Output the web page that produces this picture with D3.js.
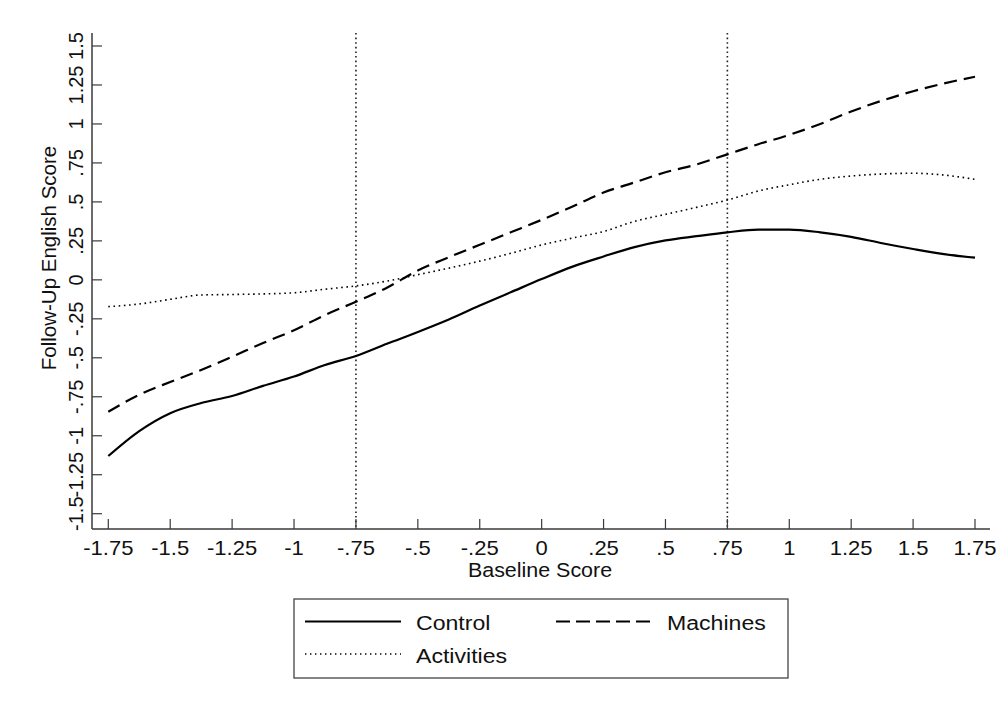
<!DOCTYPE html>
<html>
<head>
<meta charset="utf-8">
<script src="https://cdn.jsdelivr.net/npm/d3@7"></script>
<style>
  html, body { margin: 0; padding: 0; background: #fff; }
  svg { display: block; }
  text { font-family: "Liberation Sans", Arial, sans-serif; fill: #111; }
</style>
</head>
<body>
<svg id="chart" width="1008" height="706"></svg>
<script>
// ---- data ----
const baseline = [-1.75, -1.625, -1.5, -1.375, -1.25, -1.125, -1.0, -0.875, -0.75, -0.625, -0.5, -0.375, -0.25, -0.125, 0,
                  0.125, 0.25, 0.375, 0.5, 0.625, 0.75, 0.875, 1.0, 1.125, 1.25, 1.375, 1.5, 1.625, 1.75];
const control = [-1.13, -0.97, -0.855, -0.79, -0.745, -0.68, -0.62, -0.546, -0.488, -0.41, -0.335, -0.255, -0.165, -0.08, 0.005,
                 0.085, 0.15, 0.21, 0.253, 0.28, 0.305, 0.322, 0.322, 0.305, 0.276, 0.235, 0.198, 0.165, 0.142];
const machines = [-0.846, -0.737, -0.655, -0.578, -0.493, -0.405, -0.323, -0.226, -0.14, -0.05, 0.06, 0.145, 0.225, 0.305, 0.385,
                  0.47, 0.56, 0.625, 0.69, 0.74, 0.805, 0.87, 0.93, 1.0, 1.08, 1.15, 1.21, 1.26, 1.303];
const activities = [-0.172, -0.155, -0.125, -0.097, -0.094, -0.09, -0.083, -0.06, -0.039, -0.008, 0.033, 0.075, 0.12, 0.17, 0.224,
                    0.268, 0.31, 0.375, 0.42, 0.465, 0.512, 0.57, 0.61, 0.645, 0.666, 0.679, 0.684, 0.672, 0.645];
const xTicks = [-1.75, -1.5, -1.25, -1, -0.75, -0.5, -0.25, 0, 0.25, 0.5, 0.75, 1, 1.25, 1.5, 1.75];
const xTickLabels = ["-1.75", "-1.5", "-1.25", "-1", "-.75", "-.5", "-.25", "0", ".25", ".5", ".75", "1", "1.25", "1.5", "1.75"];
const yTicks = [-1.5, -1.25, -1, -0.75, -0.5, -0.25, 0, 0.25, 0.5, 0.75, 1, 1.25, 1.5];
const yTickLabels = ["-1.5", "-1.25", "-1", "-.75", "-.5", "-.25", "0", ".25", ".5", ".75", "1", "1.25", "1.5"];
const refLines = [-0.75, 0.75];
const seriesNames = ["Control", "Machines", "Activities"];
const xTitle = "Baseline Score";
const yTitle = "Follow-Up English Score";

// ---- layout ----
const svg = d3.select("#chart");
const x = d3.scaleLinear().domain([-1.75, 1.75]).range([108.3, 975]);
const y = d3.scaleLinear().domain([-1.5, 1.5]).range([513.7, 46]);
const axisLeft = 92, axisRight = 990, axisTop = 33, axisBottom = 529;
const axisColor = "#3a3a3a";
const STRETCH = 1.1;

const styles = {
  Control: { dash: null, width: 2.2 },
  Machines: { dash: "13,7", width: 2.2 },
  Activities: { dash: "1.6,3.6", width: 1.6 }
};
const seriesData = { Control: control, Machines: machines, Activities: activities };

// reference vertical lines
svg.selectAll("line.ref").data(refLines).join("line")
  .attr("class", "ref")
  .attr("x1", d => x(d)).attr("x2", d => x(d))
  .attr("y1", axisTop).attr("y2", axisBottom)
  .attr("stroke", "#222").attr("stroke-width", 1.6).attr("stroke-dasharray", "1.6,3");

// curves
const line = d3.line().x((d, i) => x(baseline[i])).y(d => y(d)).curve(d3.curveMonotoneX);
seriesNames.forEach(name => {
  svg.append("path")
    .datum(seriesData[name])
    .attr("d", line)
    .attr("fill", "none")
    .attr("stroke", "#000")
    .attr("stroke-width", styles[name].width)
    .attr("stroke-dasharray", styles[name].dash)
    .attr("stroke-linecap", "butt");
});

// axes lines
svg.append("line").attr("x1", axisLeft).attr("x2", axisLeft).attr("y1", axisTop).attr("y2", axisBottom)
  .attr("stroke", axisColor).attr("stroke-width", 1.5);
svg.append("line").attr("x1", axisLeft).attr("x2", axisRight).attr("y1", axisBottom).attr("y2", axisBottom)
  .attr("stroke", axisColor).attr("stroke-width", 1.5);

// x ticks (inward)
svg.selectAll("line.xt").data(xTicks).join("line")
  .attr("x1", d => x(d)).attr("x2", d => x(d))
  .attr("y1", axisBottom).attr("y2", axisBottom - 10)
  .attr("stroke", axisColor).attr("stroke-width", 1.2);
svg.selectAll("text.xl").data(xTicks).join("text")
  .attr("class", "xl")
  .attr("transform", d => `translate(${x(d)},555) scale(${STRETCH},1)`)
  .attr("text-anchor", "middle")
  .attr("font-size", 20)
  .text((d, i) => xTickLabels[i]);

// y ticks (inward)
svg.selectAll("line.yt").data(yTicks).join("line")
  .attr("x1", axisLeft).attr("x2", axisLeft + 10)
  .attr("y1", d => y(d)).attr("y2", d => y(d))
  .attr("stroke", axisColor).attr("stroke-width", 1.2);
svg.selectAll("text.yl").data(yTicks).join("text")
  .attr("class", "yl")
  .attr("transform", d => `translate(83,${y(d)}) rotate(-90)`)
  .attr("text-anchor", "middle")
  .attr("font-size", 20)
  .text((d, i) => yTickLabels[i]);

// axis titles
svg.append("text")
  .attr("transform", `translate(540,577) scale(${STRETCH},1)`)
  .attr("text-anchor", "middle").attr("font-size", 19.5)
  .text(xTitle);
svg.append("text")
  .attr("transform", `translate(56,258) rotate(-90)`)
  .attr("text-anchor", "middle").attr("font-size", 20.5)
  .text(yTitle);

// legend
const lg = svg.append("g");
lg.append("rect").attr("x", 294).attr("y", 599).attr("width", 494).attr("height", 79)
  .attr("fill", "#fff").attr("stroke", "#444").attr("stroke-width", 1.3);
const legendPos = [
  { name: "Control", lx: 305, ly: 621.5, tx: 416, ty: 630 },
  { name: "Machines", lx: 556, ly: 621.5, tx: 667, ty: 630 },
  { name: "Activities", lx: 305, ly: 654, tx: 416, ty: 663 }
];
legendPos.forEach(p => {
  lg.append("line").attr("x1", p.lx).attr("x2", p.lx + 96).attr("y1", p.ly).attr("y2", p.ly)
    .attr("stroke", "#000").attr("stroke-width", p.name === "Activities" ? 1.4 : 2)
    .attr("stroke-dasharray", p.name === "Machines" ? "14,6" : (p.name === "Activities" ? "1.4,3.6" : null));
  lg.append("text").attr("transform", `translate(${p.tx},${p.ty}) scale(${STRETCH},1)`)
    .attr("font-size", 21).text(p.name);
});
</script>
</body>
</html>
